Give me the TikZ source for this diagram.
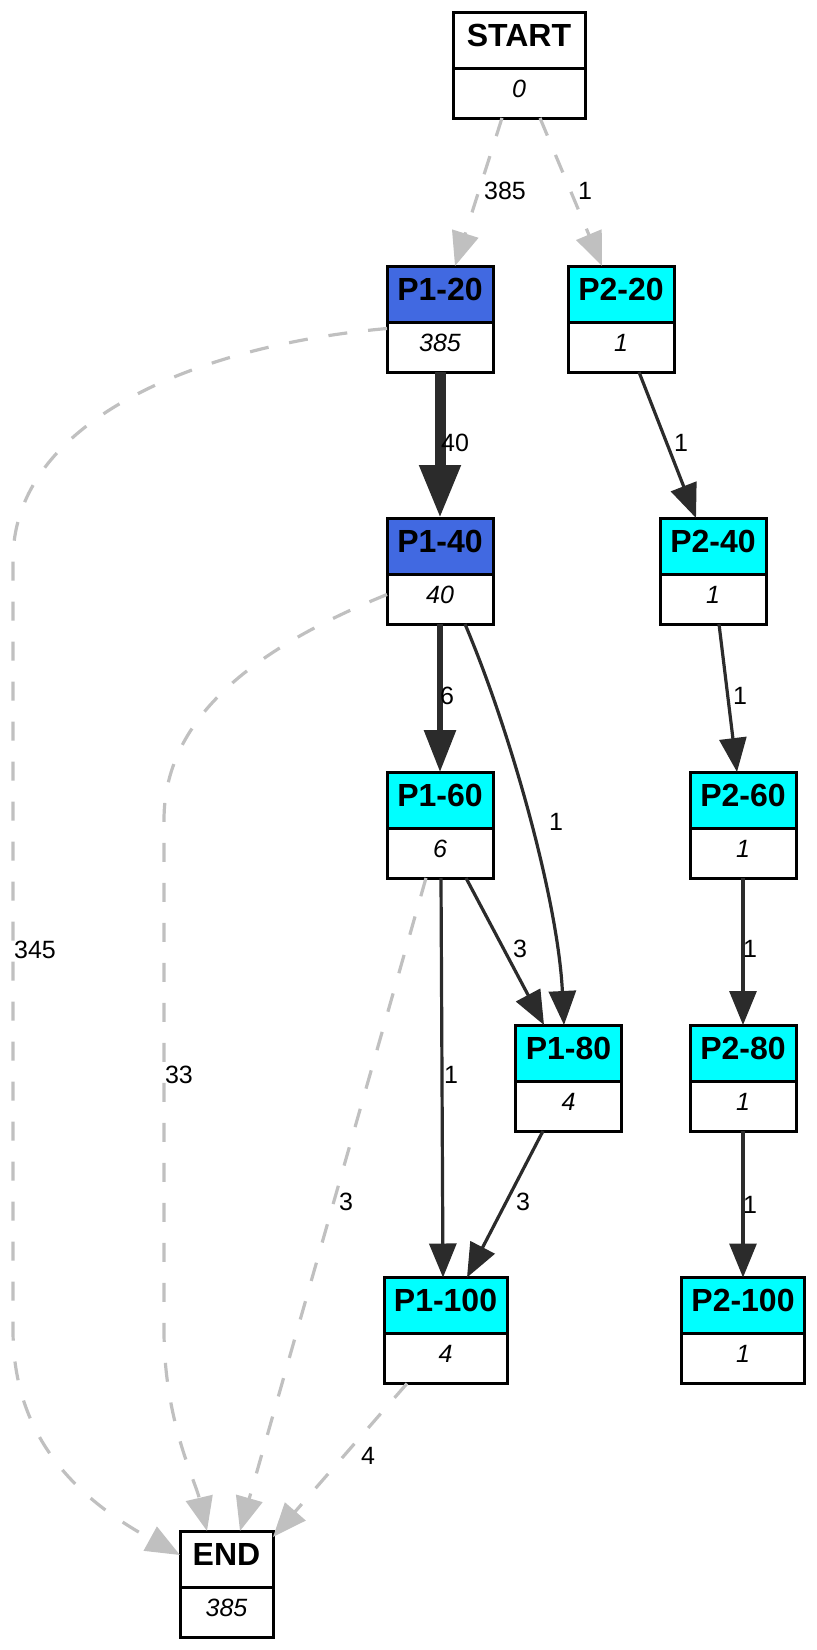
\documentclass[tikz,border=0pt]{standalone}
\usepackage{fontspec}
\setmainfont{Liberation Sans}
\usetikzlibrary{arrows.meta,positioning,calc}
\definecolor{edgedark}{HTML}{2B2B2B}
\definecolor{edgegray}{HTML}{C0C0C0}
\definecolor{royal}{HTML}{4169E1}
\definecolor{aqua}{HTML}{00FFFF}
\begin{document}
\begin{tikzpicture}[x=0.5pt, y=-0.5pt,
	hd/.style={draw, line width=1.5pt, fill=#1, inner sep=0pt, outer sep=0pt, minimum height=28pt, text height=11.5pt, text depth=5.5pt, font=\fontsize{16}{19}\selectfont\bfseries},
	cnt/.style={draw, line width=1.5pt, fill=white, inner sep=0pt, outer sep=0pt, minimum height=25pt, text height=9pt, text depth=5pt, font=\fontsize{12.5}{15}\selectfont\itshape, below=0pt of #1},
	lbl/.style={inner sep=0pt, font=\fontsize{12.5}{15}\selectfont},
	flow/.style={draw=edgedark, line width=1.6pt, -{Triangle[length=17pt, width=13.5pt]}},
	skip/.style={draw=edgegray, line width=1.6pt, dash pattern=on 9.5pt off 10.5pt, -{Triangle[length=17pt, width=13.5pt]}}]
	\useasboundingbox (0, 0) rectangle (817, 1650);
	\node[hd=white, minimum width=66pt] (0) at (519, 40) {START};
	\node[cnt=0, minimum width=66pt] (1) {0};
	\node[hd=royal, minimum width=53pt] (2) at (440, 294) {P1-20};
	\node[cnt=2, minimum width=53pt] (3) {385};
	\node[hd=aqua, minimum width=53pt] (4) at (621, 294) {P2-20};
	\node[cnt=4, minimum width=53pt] (5) {1};
	\node[hd=royal, minimum width=53pt] (6) at (440, 546) {P1-40};
	\node[cnt=6, minimum width=53pt] (7) {40};
	\node[hd=aqua, minimum width=53pt] (8) at (713, 546) {P2-40};
	\node[cnt=8, minimum width=53pt] (9) {1};
	\node[hd=aqua, minimum width=53pt] (10) at (440, 800) {P1-60};
	\node[cnt=10, minimum width=53pt] (11) {6};
	\node[hd=aqua, minimum width=53pt] (12) at (743, 800) {P2-60};
	\node[cnt=12, minimum width=53pt] (13) {1};
	\node[hd=aqua, minimum width=53pt] (14) at (568.5, 1053) {P1-80};
	\node[cnt=14, minimum width=53pt] (15) {4};
	\node[hd=aqua, minimum width=53pt] (16) at (743, 1053) {P2-80};
	\node[cnt=16, minimum width=53pt] (17) {1};
	\node[hd=aqua, minimum width=61.5pt] (18) at (445.5, 1305.5) {P1-100};
	\node[cnt=18, minimum width=61.5pt] (19) {4};
	\node[hd=aqua, minimum width=61.5pt] (20) at (743, 1305.5) {P2-100};
	\node[cnt=20, minimum width=61.5pt] (21) {1};
	\node[hd=white, minimum width=46.5pt] (22) at (226.5, 1559) {END};
	\node[cnt=22, minimum width=46.5pt] (23) {385};
	\draw[skip] ($(1.south)+(-17, 0)$) to ($(2.north)+(15, 0)$);
	\draw[skip] ($(1.south)+(21, 0)$) to ($(4.north)+(-19, 0)$);
	\draw[flow, line width=5.5pt, -{Triangle[length=26.5pt, width=19.5pt]}] (3) to (6);
	\draw[flow] ($(5.south)+(18, 0)$) to ($(8.north)+(-17, 0)$);
	\draw[flow, line width=3pt, -{Triangle[length=21pt, width=15.5pt]}] (7) to (10);
	\draw[flow] ($(7.south)+(25, 0)$) .. controls (510, 730) and (558, 900) .. ($(14.north)+(-4.5, 0)$);
	\draw[flow] ($(9.south)+(6, 0)$) to ($(12.north)+(-6, 0)$);
	\draw[flow] ($(11.south)+(26, 0)$) to ($(14.north)+(-24.5, 0)$);
	\draw[flow] ($(11.south)+(1, 0)$) to ($(18.north)+(-2.5, 0)$);
	\draw[skip] ($(11.south)+(-14, 0)$) to ($(22.north)+(13.5, 0)$);
	\draw[flow] (13) to (16);
	\draw[flow] ($(15.south)+(-25.5, 0)$) to ($(18.north)+(21.5, 0)$);
	\draw[flow] (17) to (20);
	\draw[skip] ($(3.west)+(0, -18.5)$) .. controls (200, 345) and (13, 420) .. (13, 560) -- (13, 1330) .. controls (13, 1440) and (80, 1500) .. ($(22.west)+(0, -4)$);
	\draw[skip] ($(7.west)+(0, -4.5)$) .. controls (250, 650) and (164, 720) .. (164, 820) -- (164, 1330) .. controls (164, 1420) and (195, 1480) .. ($(22.north)+(-19.5, 0)$);
	\draw[skip] ($(19.south)+(-38.5, 0)$) to ($(22.north east)+(0, 6)$);
	\node[lbl] (24) at (505, 191) {385};
	\node[lbl] (25) at (585, 191) {1};
	\node[lbl] (26) at (455, 443) {40};
	\node[lbl] (27) at (681, 443) {1};
	\node[lbl] (28) at (447, 696) {6};
	\node[lbl] (29) at (740, 696) {1};
	\node[lbl] (30) at (556, 822) {1};
	\node[lbl] (31) at (520, 949) {3};
	\node[lbl] (32) at (750, 949) {1};
	\node[lbl] (33) at (35, 950) {345};
	\node[lbl] (34) at (451, 1075) {1};
	\node[lbl] (35) at (179, 1075) {33};
	\node[lbl] (36) at (346, 1202) {3};
	\node[lbl] (37) at (523, 1202) {3};
	\node[lbl] (38) at (750, 1205) {1};
	\node[lbl] (39) at (368, 1456) {4};
\end{tikzpicture}
\end{document}
